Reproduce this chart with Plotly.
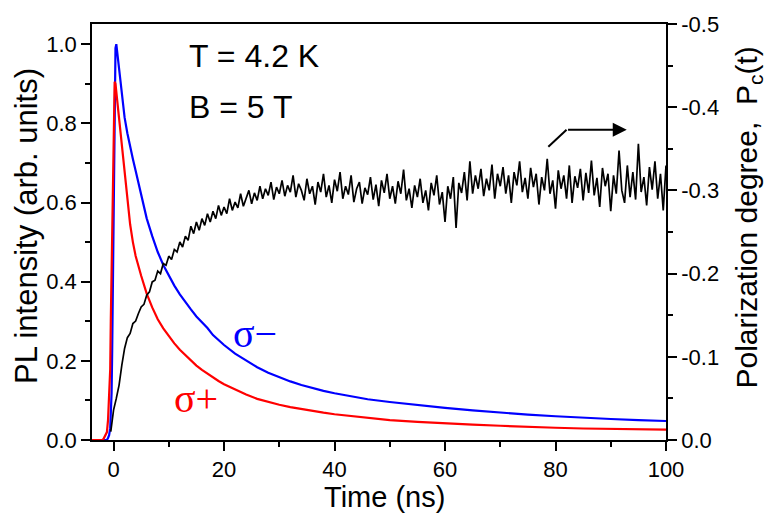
import numpy as np
import plotly.graph_objects as go

# ---------------- data ----------------
# PL intensity (left axis)
t_pl = [-4.0, -2.0, -1.8, -1.5, -1.2, -1.0, -0.8, -0.6, -0.5, -0.35, -0.25, -0.1, 0.0, 0.1, 0.2, 0.35, 0.5,
        0.7, 1.0, 1.5, 2.0, 2.5, 3.0, 3.5, 4.0, 5.0, 6.0, 7.0, 8.0, 9.0, 10.0, 11.0, 12.0, 13.0, 14.0,
        15.0, 16.0, 17.0, 18.0, 19.0, 20.0, 22.0, 24.0, 26.0, 28.0, 30.0, 32.0, 34.0, 36.0, 38.0, 40.0,
        43.0, 46.0, 50.0, 55.0, 60.0, 65.0, 70.0, 75.0, 80.0, 85.0, 90.0, 95.0, 100.0]
sigma_plus = [0.0, 0.0, 0.003, 0.01, 0.02, 0.05, 0.10, 0.18, 0.30, 0.45, 0.58, 0.72, 0.84, 0.885, 0.905, 0.90, 0.88,
              0.855, 0.81, 0.74, 0.68, 0.61, 0.545, 0.50, 0.465, 0.415, 0.37, 0.335, 0.305, 0.282, 0.262, 0.244, 0.228, 0.214, 0.200,
              0.188, 0.177, 0.167, 0.157, 0.149, 0.141, 0.127, 0.115, 0.104, 0.096, 0.089, 0.083, 0.078, 0.073, 0.069, 0.065,
              0.060, 0.056, 0.050, 0.046, 0.042, 0.039, 0.036, 0.033, 0.031, 0.029, 0.028, 0.027, 0.026]
sigma_minus = [0.0, 0.0, 0.0, 0.0, 0.0, 0.005, 0.012, 0.03, 0.06, 0.12, 0.22, 0.45, 0.62, 0.80, 0.93, 0.99, 1.0,
               0.975, 0.93, 0.865, 0.815, 0.775, 0.74, 0.71, 0.68, 0.62, 0.56, 0.515, 0.475, 0.442, 0.415, 0.39, 0.368, 0.348, 0.33,
               0.312, 0.297, 0.283, 0.265, 0.252, 0.240, 0.218, 0.200, 0.184, 0.170, 0.158, 0.148, 0.139, 0.131, 0.124, 0.118,
               0.110, 0.103, 0.096, 0.088, 0.081, 0.075, 0.069, 0.064, 0.060, 0.056, 0.053, 0.050, 0.048]

# Polarization degree (right axis), sampled every 0.5 ns from -0.5 ns
pc_t0 = -0.5
pc_step = 0.5
pc_values = [
    -0.010, -0.036, -0.050, -0.066, -0.090, -0.110, -0.123, -0.128, -0.140, -0.143,
    -0.152, -0.160, -0.163, -0.174, -0.178, -0.190, -0.192, -0.203, -0.200, -0.212,
    -0.210, -0.221, -0.217, -0.229, -0.226, -0.238, -0.232, -0.245, -0.240, -0.257,
    -0.248, -0.262, -0.252, -0.266, -0.258, -0.272, -0.262, -0.275, -0.266, -0.282,
    -0.270, -0.280, -0.272, -0.290, -0.276, -0.286, -0.279, -0.296, -0.281, -0.292,
    -0.300, -0.284, -0.297, -0.288, -0.305, -0.290, -0.302, -0.294, -0.310, -0.289,
    -0.304, -0.296, -0.312, -0.293, -0.306, -0.298, -0.318, -0.292, -0.308, -0.300,
    -0.288, -0.314, -0.296, -0.305, -0.283, -0.310, -0.298, -0.320, -0.292, -0.306,
    -0.285, -0.313, -0.299, -0.322, -0.290, -0.305, -0.295, -0.318, -0.286, -0.302,
    -0.310, -0.284, -0.303, -0.295, -0.316, -0.289, -0.307, -0.281, -0.312, -0.297,
    -0.320, -0.290, -0.305, -0.284, -0.311, -0.296, -0.325, -0.288, -0.302, -0.279,
    -0.306, -0.292, -0.314, -0.285, -0.300, -0.276, -0.309, -0.294, -0.318, -0.283,
    -0.298, -0.262, -0.305, -0.290, -0.316, -0.255, -0.309, -0.297, -0.322, -0.288,
    -0.335, -0.296, -0.318, -0.302, -0.326, -0.293, -0.314, -0.300, -0.331, -0.290,
    -0.320, -0.305, -0.328, -0.296, -0.318, -0.285, -0.322, -0.306, -0.335, -0.298,
    -0.315, -0.290, -0.327, -0.304, -0.320, -0.283, -0.316, -0.300, -0.338, -0.296,
    -0.312, -0.278, -0.324, -0.302, -0.318, -0.290, -0.330, -0.285, -0.317, -0.303,
    -0.326, -0.288, -0.321, -0.297, -0.336, -0.294, -0.315, -0.280, -0.327, -0.305,
    -0.320, -0.275, -0.318, -0.296, -0.348, -0.300, -0.285, -0.330, -0.292, -0.322,
    -0.289, -0.356, -0.298, -0.316, -0.282, -0.328, -0.301, -0.335, -0.290, -0.320,
    -0.276, -0.330]
pc_time = [pc_t0 + pc_step * i for i in range(len(pc_values))]

x_ticks = [0, 20, 40, 60, 80, 100]
y_ticks = [0.0, 0.2, 0.4, 0.6, 0.8, 1.0]
y2_ticks = [0.0, -0.1, -0.2, -0.3, -0.4, -0.5]
y2_labels = ["0.0", "-0.1", "-0.2", "-0.3", "-0.4", "-0.5"]

# ---------------- figure ----------------
FONT = "Arial, 'Liberation Sans', sans-serif"
SERIF = "'Liberation Serif', 'DejaVu Serif', serif"
fig = go.Figure()
fig.add_trace(go.Scatter(x=t_pl, y=sigma_minus, mode="lines",
                         line=dict(color="#0000FF", width=2.2), showlegend=False))
fig.add_trace(go.Scatter(x=t_pl, y=sigma_plus, mode="lines",
                         line=dict(color="#FF0000", width=2.2), showlegend=False))
fig.add_trace(go.Scatter(x=pc_time, y=pc_values, mode="lines", yaxis="y2",
                         line=dict(color="#000000", width=1.7), showlegend=False))

axis_common = dict(showline=True, linecolor="black", linewidth=1.7, ticks="outside",
                   ticklen=9, tickwidth=1.7, tickcolor="black", showgrid=False, zeroline=False,
                   tickfont=dict(family=FONT, size=22, color="black"))

fig.update_layout(
    width=769, height=523,
    margin=dict(l=92, r=103, t=12, b=83),
    paper_bgcolor="white", plot_bgcolor="white",
    font=dict(family=FONT, color="black"),
    xaxis=dict(range=[-3.9, 100], tickvals=x_ticks, mirror=True,
               minor=dict(tickmode="linear", tick0=0, dtick=10, ticks="outside", ticklen=5,
                          tickwidth=1.5, tickcolor="black"),
               **axis_common),
    yaxis=dict(range=[0, 1.051], tickvals=y_ticks, tickformat=".1f",
               minor=dict(tickmode="linear", tick0=0, dtick=0.1, ticks="outside", ticklen=5,
                          tickwidth=1.5, tickcolor="black"),
               **axis_common),
    yaxis2=dict(range=[0, -0.5], overlaying="y", side="right", tickvals=y2_ticks,
                ticktext=y2_labels,
                minor=dict(tickmode="linear", tick0=0, dtick=0.05, ticks="outside", ticklen=5,
                           tickwidth=1.5, tickcolor="black"),
                **axis_common),
)

# axis titles
fig.add_annotation(text="Time (ns)", xref="paper", yref="paper", x=0.51, y=-0.136,
                   showarrow=False, font=dict(family=FONT, size=29), xanchor="center", yanchor="middle")
fig.add_annotation(text="PL intensity (arb. units)", xref="paper", yref="paper", x=-0.113, y=0.515,
                   textangle=-90, showarrow=False, font=dict(family=FONT, size=31),
                   xanchor="center", yanchor="middle")
fig.add_annotation(text="Polarization degree,  P<sub>c</sub>(t)", xref="paper", yref="paper", x=1.143, y=0.535,
                   textangle=-90, showarrow=False, font=dict(family=FONT, size=30),
                   xanchor="center", yanchor="middle")

# in-plot labels
fig.add_annotation(text="T = 4.2 K", x=13.3, y=0.97, xanchor="left", yanchor="middle",
                   showarrow=False, font=dict(family=FONT, size=32))
fig.add_annotation(text="B = 5 T", x=13.3, y=0.842, xanchor="left", yanchor="middle",
                   showarrow=False, font=dict(family=FONT, size=32))
fig.add_annotation(text="σ−", x=25.6, y=0.27, xanchor="center", yanchor="middle",
                   showarrow=False, font=dict(family=SERIF, size=40, color="#0000FF"))
fig.add_annotation(text="σ+", x=15.0, y=0.105, xanchor="center", yanchor="middle",
                   showarrow=False, font=dict(family=SERIF, size=40, color="#FF0000"))

# arrow pointing to the right axis
fig.add_shape(type="line", x0=78.7, y0=0.741, x1=82.0, y1=0.784, xref="x", yref="y",
              line=dict(color="black", width=2))
fig.add_annotation(text="", x=92.9, y=0.784, ax=82.0, ay=0.784, axref="x", ayref="y",
                   showarrow=True, arrowhead=2, arrowsize=1.4, arrowwidth=2, arrowcolor="black")

fig.write_html("out.html")
